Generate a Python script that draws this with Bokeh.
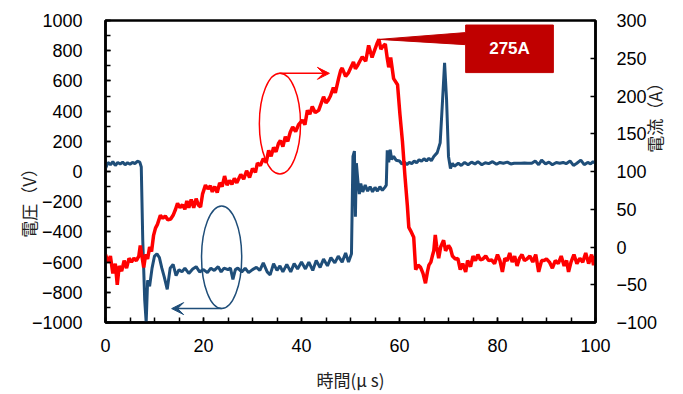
import math
from bokeh.plotting import figure
from bokeh.models import Range1d, LinearAxis, FixedTicker, Arrow, VeeHead, Label
from bokeh.embed import file_html
from bokeh.resources import INLINE

# ---- data (time in µs) ----
voltage_samples = [
    (0, 20), (0.5, 60), (1, 45), (1.5, 65), (2, 40), (2.5, 60), (3, 50), (3.5, 62), (4, 45), (4.5, 58),
    (5, 48), (5.5, 60), (6, 52), (6.5, 68), (7, 62), (7.3, 30), (7.6, -450), (8.0, -850), (8.3, -1000),
    (8.6, -720), (9.0, -760), (9.5, -640), (10.0, -560), (10.5, -545), (11.0, -570), (11.5, -640),
    (12.0, -700), (12.6, -780), (13.2, -640), (13.8, -615), (14.4, -690), (15.0, -650), (15.6, -665),
    (16.2, -640), (17.0, -675), (17.8, -645), (18.5, -630), (19.2, -665), (20.0, -650), (20.8, -670),
    (21.5, -640), (22.2, -655), (23.0, -630), (23.6, -665), (24.2, -640), (25.0, -650), (25.5, -640),
    (26.0, -715), (26.5, -650), (27.0, -640), (27.8, -665), (28.5, -640), (29.2, -670), (30.0, -650),
    (30.8, -635), (31.5, -655), (32.2, -605), (33.0, -665), (33.6, -685), (34.3, -610), (35.0, -655),
    (35.6, -625), (36.2, -665), (37.0, -615), (37.8, -665), (38.5, -610), (39.2, -645), (40.0, -600),
    (40.8, -645), (41.5, -600), (42.3, -655), (43.0, -590), (43.8, -635), (44.5, -580), (45.3, -625),
    (46.0, -570), (46.8, -605), (47.5, -560), (48.3, -600), (49.0, -540), (49.6, -600), (50.2, -545),
    (50.5, 100), (50.8, 135), (51.0, -300), (51.2, 55), (51.5, -60), (51.8, -150), (52.1, -80),
    (52.5, -135), (53.0, -90), (53.5, -130), (54.0, -100), (54.5, -135), (55.0, -105), (55.5, -130),
    (56.0, -100), (56.5, -125), (57.0, -105), (57.3, -90), (57.5, 140), (57.8, 60), (58.1, 145),
    (58.4, 80), (58.8, 100), (59.3, 75), (60.0, 70), (60.5, 50), (61.0, 62), (61.5, 45), (62.0, 60),
    (62.5, 52), (63.0, 70), (63.5, 58), (64.0, 78), (64.5, 68), (65.0, 85), (65.5, 70), (66.0, 88),
    (66.5, 72), (67.0, 100), (67.7, 125), (68.3, 190), (68.8, 480), (69.2, 720), (69.6, 480),
    (70.0, 100), (70.4, 20), (70.8, 55), (71.2, 35), (72.0, 55), (72.6, 40), (73.3, 60), (74.0, 45),
    (74.7, 62), (75.4, 50), (76.0, 65), (76.8, 45), (77.5, 58), (78.2, 52), (79.0, 65), (79.8, 48),
    (80.5, 60), (81.2, 55), (82.0, 62), (82.7, 50), (83.4, 55), (84.0, 55), (84.8, 55), (85.5, 56),
    (86.2, 55), (87.0, 55), (87.7, 70), (88.4, 45), (89.0, 75), (89.8, 50), (90.5, 62), (91.2, 45),
    (92.0, 60), (92.7, 55), (93.4, 60), (94.0, 52), (94.8, 70), (95.5, 40), (96.2, 55), (97.0, 75),
    (97.7, 45), (98.4, 60), (99.0, 50), (99.5, 65), (100, 55),
]

current_samples = [
    (0, -10), (0.5, -20), (1, -12), (1.5, -35), (2, -22), (2.4, -50), (2.8, -25), (3.3, -32), (3.8, -18),
    (4.3, -28), (4.8, -15), (5.3, -20), (5.8, -15), (6.3, -18), (6.8, -12), (7.1, 2), (7.5, -15),
    (7.8, -27), (8.2, -10), (8.6, -16), (9.0, 0), (9.4, -6), (9.8, 15), (10.2, 25), (10.6, 30),
    (11.2, 42), (11.7, 38), (12.2, 41), (12.7, 36), (13.3, 37), (13.8, 42), (14.3, 50), (14.7, 58),
    (15.2, 52), (15.7, 56), (16.2, 50), (16.6, 61), (17.0, 52), (17.5, 63), (18.0, 52), (18.5, 64),
    (19.0, 55), (19.4, 53), (19.8, 70), (20.4, 82), (20.9, 77), (21.4, 81), (21.8, 73), (22.3, 80),
    (22.8, 72), (23.3, 85), (23.8, 80), (24.3, 94), (24.8, 82), (25.3, 88), (25.8, 83), (26.3, 91),
    (26.8, 85), (27.6, 96), (28.2, 90), (28.8, 101), (29.4, 92), (30.0, 104), (30.6, 99), (31.0, 111),
    (31.6, 108), (32.2, 117), (32.8, 112), (33.3, 128), (33.8, 120), (34.3, 132), (34.8, 126),
    (35.3, 137), (35.7, 141), (36.2, 133), (36.7, 146), (37.2, 140), (37.7, 152), (38.2, 159),
    (38.8, 153), (39.4, 162), (40.2, 168), (40.7, 162), (41.2, 181), (41.7, 176), (42.2, 186),
    (42.8, 178), (43.5, 181), (44.0, 190), (44.5, 199), (45.0, 191), (45.5, 195), (45.9, 200),
    (46.5, 211), (46.9, 204), (47.6, 224), (48.0, 234), (48.3, 237), (49.0, 226), (49.6, 231),
    (50.1, 238), (50.6, 245), (51.0, 236), (51.4, 240), (51.9, 246), (52.4, 252), (53.1, 246),
    (53.7, 267), (54.1, 258), (54.4, 251), (55.0, 262), (55.5, 271), (55.8, 275), (56.2, 262),
    (56.5, 265), (57.1, 269), (57.5, 250), (57.8, 238), (58.2, 251), (58.8, 223), (59.6, 215),
    (60.1, 175), (60.6, 140), (61.1, 95), (61.6, 55), (61.9, 26), (62.4, 20), (62.9, 13), (63.3, -30),
    (63.8, -24), (64.3, -27), (64.8, -35), (65.3, -48), (65.7, -33), (66.0, -24), (66.4, -20),
    (66.7, -12), (67.0, -5), (67.3, 16), (67.6, 0), (68.0, -15), (68.4, 0), (69.0, 9), (69.4, -5),
    (70.0, 2), (70.4, -2), (70.8, -12), (71.4, -16), (71.9, -15), (72.4, -30), (72.9, -22), (73.5, -33),
    (73.9, -18), (74.5, -26), (75.0, -12), (75.5, -18), (76.0, -10), (76.5, -17), (77.0, -16),
    (77.6, -12), (78.2, -18), (78.8, -17), (79.4, -22), (80.0, -10), (80.5, -18), (81.0, -33),
    (81.5, -15), (82.0, -18), (82.5, -8), (83.0, -20), (83.5, -12), (84.0, -25), (84.5, -15),
    (85.0, -10), (85.5, -18), (86.0, -16), (86.6, -12), (87.2, -20), (87.8, -10), (88.4, -33),
    (89.0, -18), (89.5, -18), (90.0, -16), (90.6, -20), (91.2, -28), (91.8, -18), (92.4, -22),
    (93.0, -12), (93.6, -25), (94.1, -18), (94.5, -33), (95.0, -20), (95.6, -10), (96.2, -22),
    (96.8, -15), (97.4, -20), (98.0, -8), (98.6, -22), (99.2, -10), (99.6, -24), (100, -12),
]

volt_t = [t for t, _ in voltage_samples]
volt_v = [v for _, v in voltage_samples]
curr_t = [t for t, _ in current_samples]
curr_a = [a for _, a in current_samples]

time_ticks = [0, 20, 40, 60, 80, 100]
time_minor = list(range(0, 101, 5))
volt_ticks = list(range(-1000, 1001, 200))
volt_minor = list(range(-1000, 1001, 100))
curr_ticks = list(range(-100, 301, 50))

x_title = "時間(μ s)"
left_title = "電圧（V）"
right_title = "電流（A）"

BLUE = "#1F4E79"
RED = "#FF0000"
DARKRED = "#C00000"
TICK_FONT = "Liberation Sans"
CJK_FONT = "Noto Sans CJK JP"


def lab(v):
    return str(v).replace("-", "\u2212")


p = figure(width=683, height=394, x_range=Range1d(0, 100), y_range=Range1d(-1000, 1000),
           output_backend="svg", toolbar_location=None,
           min_border_left=105, min_border_right=88, min_border_top=20, min_border_bottom=71)
p.extra_y_ranges = {"amp": Range1d(-100, 300)}
p.xgrid.visible = False
p.ygrid.visible = False
p.outline_line_color = "black"
p.outline_line_width = 2.5
p.background_fill_color = "white"
p.border_fill_color = "white"


def style(ax):
    ax.axis_line_color = "black"
    ax.axis_line_width = 2.5
    ax.major_tick_in = 5
    ax.major_tick_out = 0
    ax.minor_tick_in = 5
    ax.minor_tick_out = 0
    ax.major_tick_line_color = "black"
    ax.minor_tick_line_color = "black"
    ax.major_tick_line_width = 1.5
    ax.minor_tick_line_width = 1.5
    ax.major_label_text_font = TICK_FONT
    ax.major_label_text_font_size = "18px"
    ax.major_label_text_color = "black"
    ax.axis_label_text_font = CJK_FONT
    ax.axis_label_text_font_size = "17px"
    ax.axis_label_text_font_style = "normal"
    ax.axis_label_text_color = "#222222"


def title_axis(range_name, at, text, standoff):
    # an axis carrying only one vertical label, so the title reads bottom-to-top
    ax = LinearAxis(y_range_name=range_name, ticker=FixedTicker(ticks=[at], minor_ticks=[]))
    ax.major_label_overrides = {at: text}
    ax.major_label_orientation = math.pi / 2
    ax.major_label_standoff = standoff
    ax.major_label_text_font = CJK_FONT
    ax.major_label_text_font_size = "17px"
    ax.major_label_text_color = "#222222"
    ax.axis_line_color = None
    ax.major_tick_line_color = None
    ax.minor_tick_line_color = None
    ax.major_tick_in = 0
    ax.major_tick_out = 0
    return ax


xa = p.xaxis[0]
style(xa)
xa.ticker = FixedTicker(ticks=time_ticks, minor_ticks=time_minor)
xa.major_label_overrides = {t: lab(t) for t in time_ticks}
xa.major_label_standoff = 16
xa.axis_label = x_title
xa.axis_label_standoff = 12

ya = p.yaxis[0]
style(ya)
ya.ticker = FixedTicker(ticks=volt_ticks, minor_ticks=volt_minor)
ya.major_label_overrides = {t: lab(t) for t in volt_ticks}
ya.major_label_standoff = 23
p.add_layout(title_axis("default", 76, left_title, 0), "left")

right_axis = LinearAxis(y_range_name="amp")
p.add_layout(right_axis, "right")
style(right_axis)
right_axis.ticker = FixedTicker(ticks=curr_ticks, minor_ticks=[])
right_axis.major_label_standoff = 21
right_axis.major_label_overrides = {t: lab(t) for t in curr_ticks}
p.add_layout(title_axis("amp", 125, right_title, -6), "right")

# data lines
p.line(volt_t, volt_v, line_color=BLUE, line_width=3)
p.line(curr_t, curr_a, line_color=RED, line_width=3.5, y_range_name="amp")

# annotation ellipses + arrows
p.ellipse(x=[35.6], y=[317], width=8.4, height=667, fill_alpha=0, line_color=RED, line_width=1.5)
p.add_layout(Arrow(end=VeeHead(size=12, fill_color=RED, line_color=RED),
                   x_start=35.5, y_start=650, x_end=45.7, y_end=650,
                   line_color=RED, line_width=1.5))
p.ellipse(x=[23.7], y=[-568], width=8.2, height=680, fill_alpha=0, line_color=BLUE, line_width=1.5)
p.add_layout(Arrow(end=VeeHead(size=12, fill_color=BLUE, line_color=BLUE),
                   x_start=23.7, y_start=-908, x_end=13.5, y_end=-908,
                   line_color=BLUE, line_width=1.5))

# callout for peak current
peak_i = max(curr_a)
peak_t = curr_t[curr_a.index(peak_i)]
bx0, bx1, by0, by1 = 73.5, 91.4, 231, 294
p.patch([peak_t, bx0, bx0, bx1, bx1, bx0, bx0],
        [peak_i, 284, by1, by1, by0, by0, 268],
        fill_color=DARKRED, line_color=DARKRED, line_width=1, y_range_name="amp")
p.add_layout(Label(x=(bx0 + bx1) / 2, y=(by0 + by1) / 2, y_range_name="amp",
                   text=f"{peak_i:.0f}A", text_color="white", text_font=TICK_FONT,
                   text_font_style="bold", text_font_size="17px",
                   text_align="center", text_baseline="middle"))

open("out.html", "w").write(file_html(p, INLINE))
